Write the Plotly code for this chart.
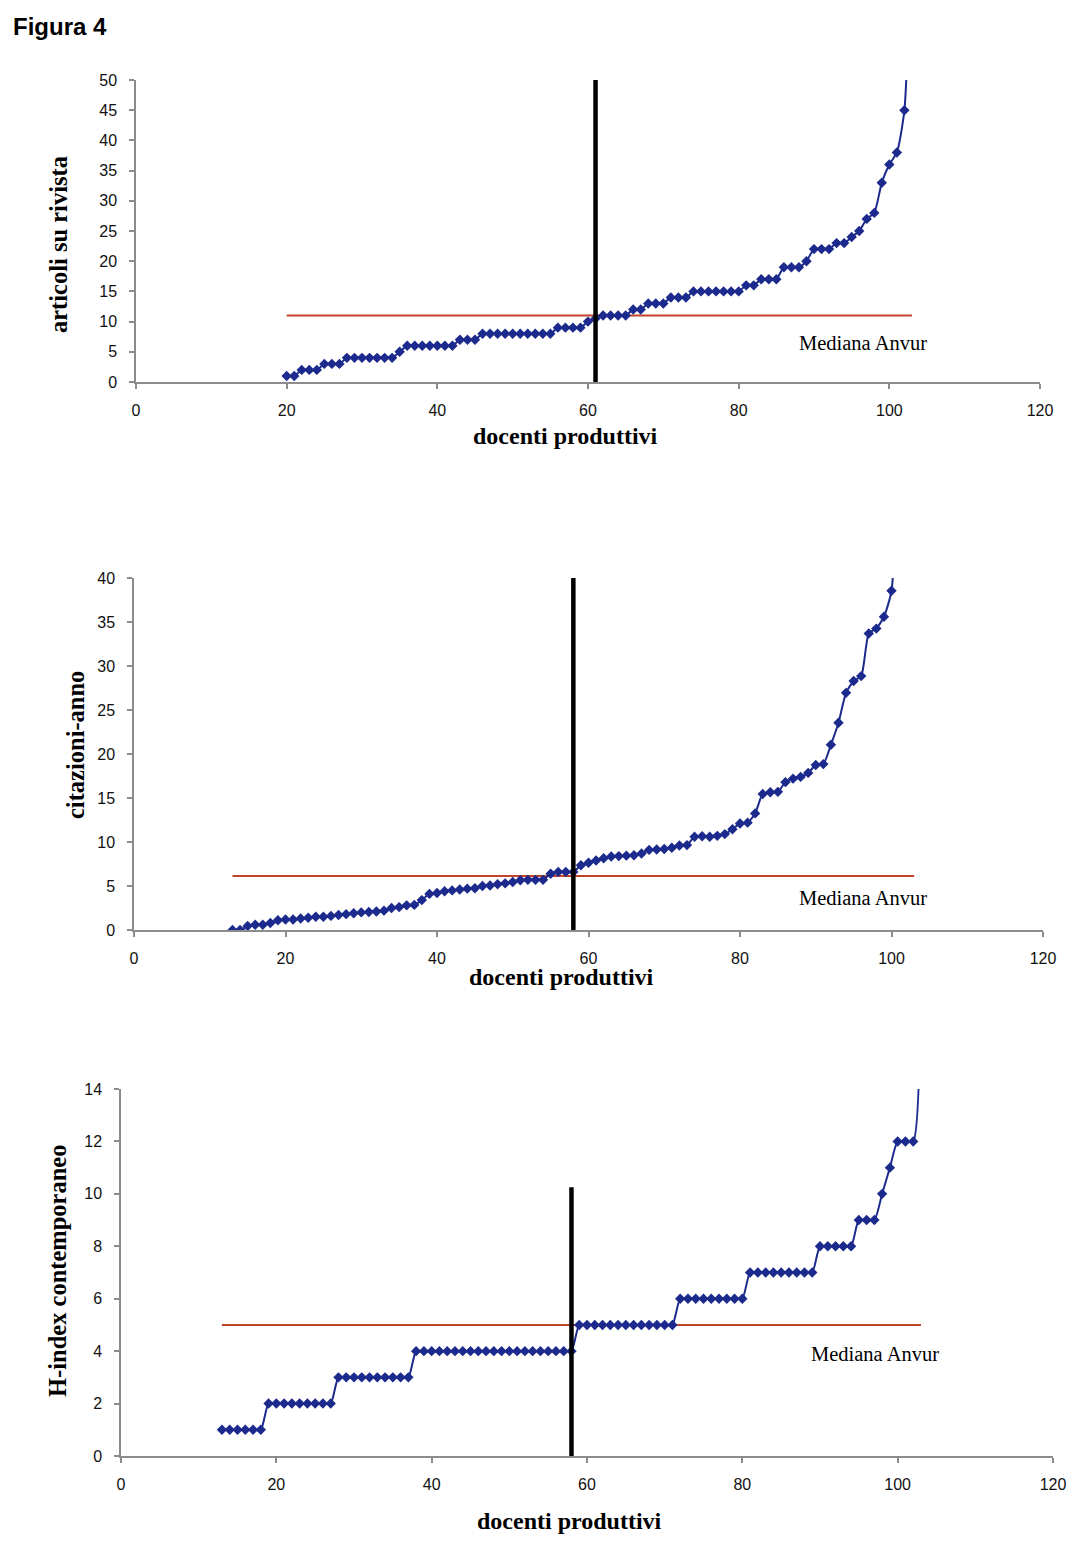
import plotly.graph_objects as go

W, H = 1088, 1562
OFF = 8  # page body margin

# ---------------- data ----------------
# Chart 1: articoli su rivista
art_x = list(range(20, 104))
art_y = [1, 1, 2, 2, 2, 3, 3, 3, 4, 4, 4, 4, 4, 4, 4, 5, 6, 6, 6, 6, 6, 6, 6,
         7, 7, 7, 8, 8, 8, 8, 8, 8, 8, 8, 8, 8, 9, 9, 9, 9, 10, 10.5,
         11, 11, 11, 11, 12, 12, 13, 13, 13, 14, 14, 14, 15, 15, 15, 15, 15, 15, 15,
         16, 16, 17, 17, 17, 19, 19, 19, 20, 22, 22, 22, 23, 23, 24, 25, 27, 28,
         33, 36, 38, 45, 80]
art_median = 11
art_cut = 61

# Chart 2: citazioni-anno
cit_x = list(range(13, 102))
cit_y = [0.0, 0.0, 0.45, 0.6, 0.6, 0.8, 1.1, 1.2, 1.2, 1.3, 1.4, 1.5, 1.5, 1.6, 1.7,
         1.8, 1.9, 2.0, 2.05, 2.1, 2.2, 2.5, 2.6, 2.8, 2.85, 3.4, 4.1, 4.2, 4.4, 4.5,
         4.6, 4.7, 4.75, 5.0, 5.05, 5.2, 5.3, 5.45, 5.65, 5.7, 5.7, 5.7, 6.4, 6.6, 6.6,
         6.6, 7.35, 7.65, 7.9, 8.15, 8.35, 8.4, 8.45, 8.5, 8.7, 9.1, 9.15, 9.2, 9.35,
         9.6, 9.65, 10.6, 10.65, 10.6, 10.7, 10.9, 11.45, 12.1, 12.2, 13.25, 15.45,
         15.65, 15.7, 16.8, 17.2, 17.4, 17.85, 18.75, 18.85, 21.05, 23.55, 26.95,
         28.3, 28.85, 33.7, 34.25, 35.6, 38.55, 60]
cit_median = 6.15
cit_cut = 58

# Chart 3: H-index contemporaneo
hix_x = list(range(13, 104))
hix_y = ([1] * 6 + [2] * 9 + [3] * 10 + [4] * 21 + [5] * 13 + [6] * 9 + [7] * 9 +
         [8] * 5 + [9] * 3 + [10, 11, 12, 12, 12, 22])
hix_median = 5
hix_cut = 58
hix_cut_top = 10.25

x_ticks = [0, 20, 40, 60, 80, 100, 120]

BLUE = "#1B2A8C"
RED = "#C0432A"
AXC = "#8C8C8C"


def px(x):
    return (x - OFF) / W


def py(y):
    return 1 - (y - OFF) / H


fig = go.Figure()

panels = [
    dict(x=art_x, y=art_y, med=art_median, cut=art_cut, cut_top=50,
         xr=[0, 120], yr=[0, 50], ydt=5,
         dom_x=[px(136), px(1040)], dom_y=[py(382), py(80)],
         ytitle="articoli su rivista", ytx=58, yty=245,
         xtx=565, xty=436, medx=863, medy=343),
    dict(x=cit_x, y=cit_y, med=cit_median, cut=cit_cut, cut_top=40,
         xr=[0, 120], yr=[0, 40], ydt=5,
         dom_x=[px(134), px(1043)], dom_y=[py(930), py(578)],
         ytitle="citazioni-anno", ytx=75, yty=745,
         xtx=561, xty=977, medx=863, medy=898),
    dict(x=hix_x, y=hix_y, med=hix_median, cut=hix_cut, cut_top=hix_cut_top,
         xr=[0, 120], yr=[0, 14], ydt=2,
         dom_x=[px(121), px(1053)], dom_y=[py(1456), py(1089)],
         ytitle="H-index contemporaneo", ytx=57, yty=1271,
         xtx=569, xty=1521, medx=875, medy=1354),
]

annotations = []
for i, p in enumerate(panels, start=1):
    xa = "x" if i == 1 else f"x{i}"
    ya = "y" if i == 1 else f"y{i}"
    xmin, xmax = p["x"][0], 103
    # median line
    fig.add_trace(go.Scatter(x=[xmin, xmax], y=[p["med"], p["med"]], mode="lines",
                             line=dict(color=RED, width=2), xaxis=xa, yaxis=ya,
                             showlegend=False, hoverinfo="skip"))
    # series
    fig.add_trace(go.Scatter(x=p["x"], y=p["y"], mode="lines+markers",
                             line=dict(color=BLUE, width=2, shape="spline", smoothing=0.6),
                             marker=dict(symbol="diamond", size=8, color=BLUE),
                             xaxis=xa, yaxis=ya, showlegend=False))
    # vertical cut line
    fig.add_trace(go.Scatter(x=[p["cut"], p["cut"]], y=[0, p["cut_top"]], mode="lines",
                             line=dict(color="black", width=4.5), xaxis=xa, yaxis=ya,
                             showlegend=False, hoverinfo="skip"))
    axis_common = dict(showgrid=False, zeroline=False, showline=True, linecolor=AXC,
                       linewidth=1.5, ticks="outside", ticklen=5, tickcolor=AXC,
                       tickwidth=1.5, automargin=False,
                       tickfont=dict(family="Liberation Sans, Arial", size=16, color="#111"))
    fig.update_layout(**{
        ("xaxis" if i == 1 else f"xaxis{i}"): dict(
            domain=p["dom_x"], range=p["xr"], tickvals=x_ticks, anchor=ya,
            ticklabelstandoff=8, **axis_common),
        ("yaxis" if i == 1 else f"yaxis{i}"): dict(
            domain=p["dom_y"], range=p["yr"], dtick=p["ydt"], tick0=0, anchor=xa,
            ticklabelstandoff=9, **axis_common),
    })
    annotations.append(dict(text="<b>" + p["ytitle"] + "</b>", xref="paper", yref="paper",
                            x=px(p["ytx"]), y=py(p["yty"]), textangle=-90, showarrow=False,
                            font=dict(family="Liberation Serif", size=24.5, color="black"),
                            xanchor="center", yanchor="middle"))
    annotations.append(dict(text="<b>docenti produttivi</b>", xref="paper", yref="paper",
                            x=px(p["xtx"]), y=py(p["xty"]), showarrow=False,
                            font=dict(family="Liberation Serif", size=24, color="black"),
                            xanchor="center", yanchor="middle"))
    annotations.append(dict(text="Mediana Anvur", xref="paper", yref="paper",
                            x=px(p["medx"]), y=py(p["medy"]), showarrow=False,
                            font=dict(family="Liberation Serif", size=20.5, color="black"),
                            xanchor="center", yanchor="middle"))

annotations.append(dict(text="<b>Figura 4</b>", xref="paper", yref="paper",
                        x=px(11), y=py(27), showarrow=False, xanchor="left", yanchor="middle",
                        font=dict(family="Liberation Sans, Arial", size=24, color="black")))

fig.update_layout(width=W, height=H, margin=dict(l=0, r=0, t=0, b=0, autoexpand=False),
                  paper_bgcolor="white", plot_bgcolor="white",
                  annotations=annotations, showlegend=False)

fig.write_html("out.html")
